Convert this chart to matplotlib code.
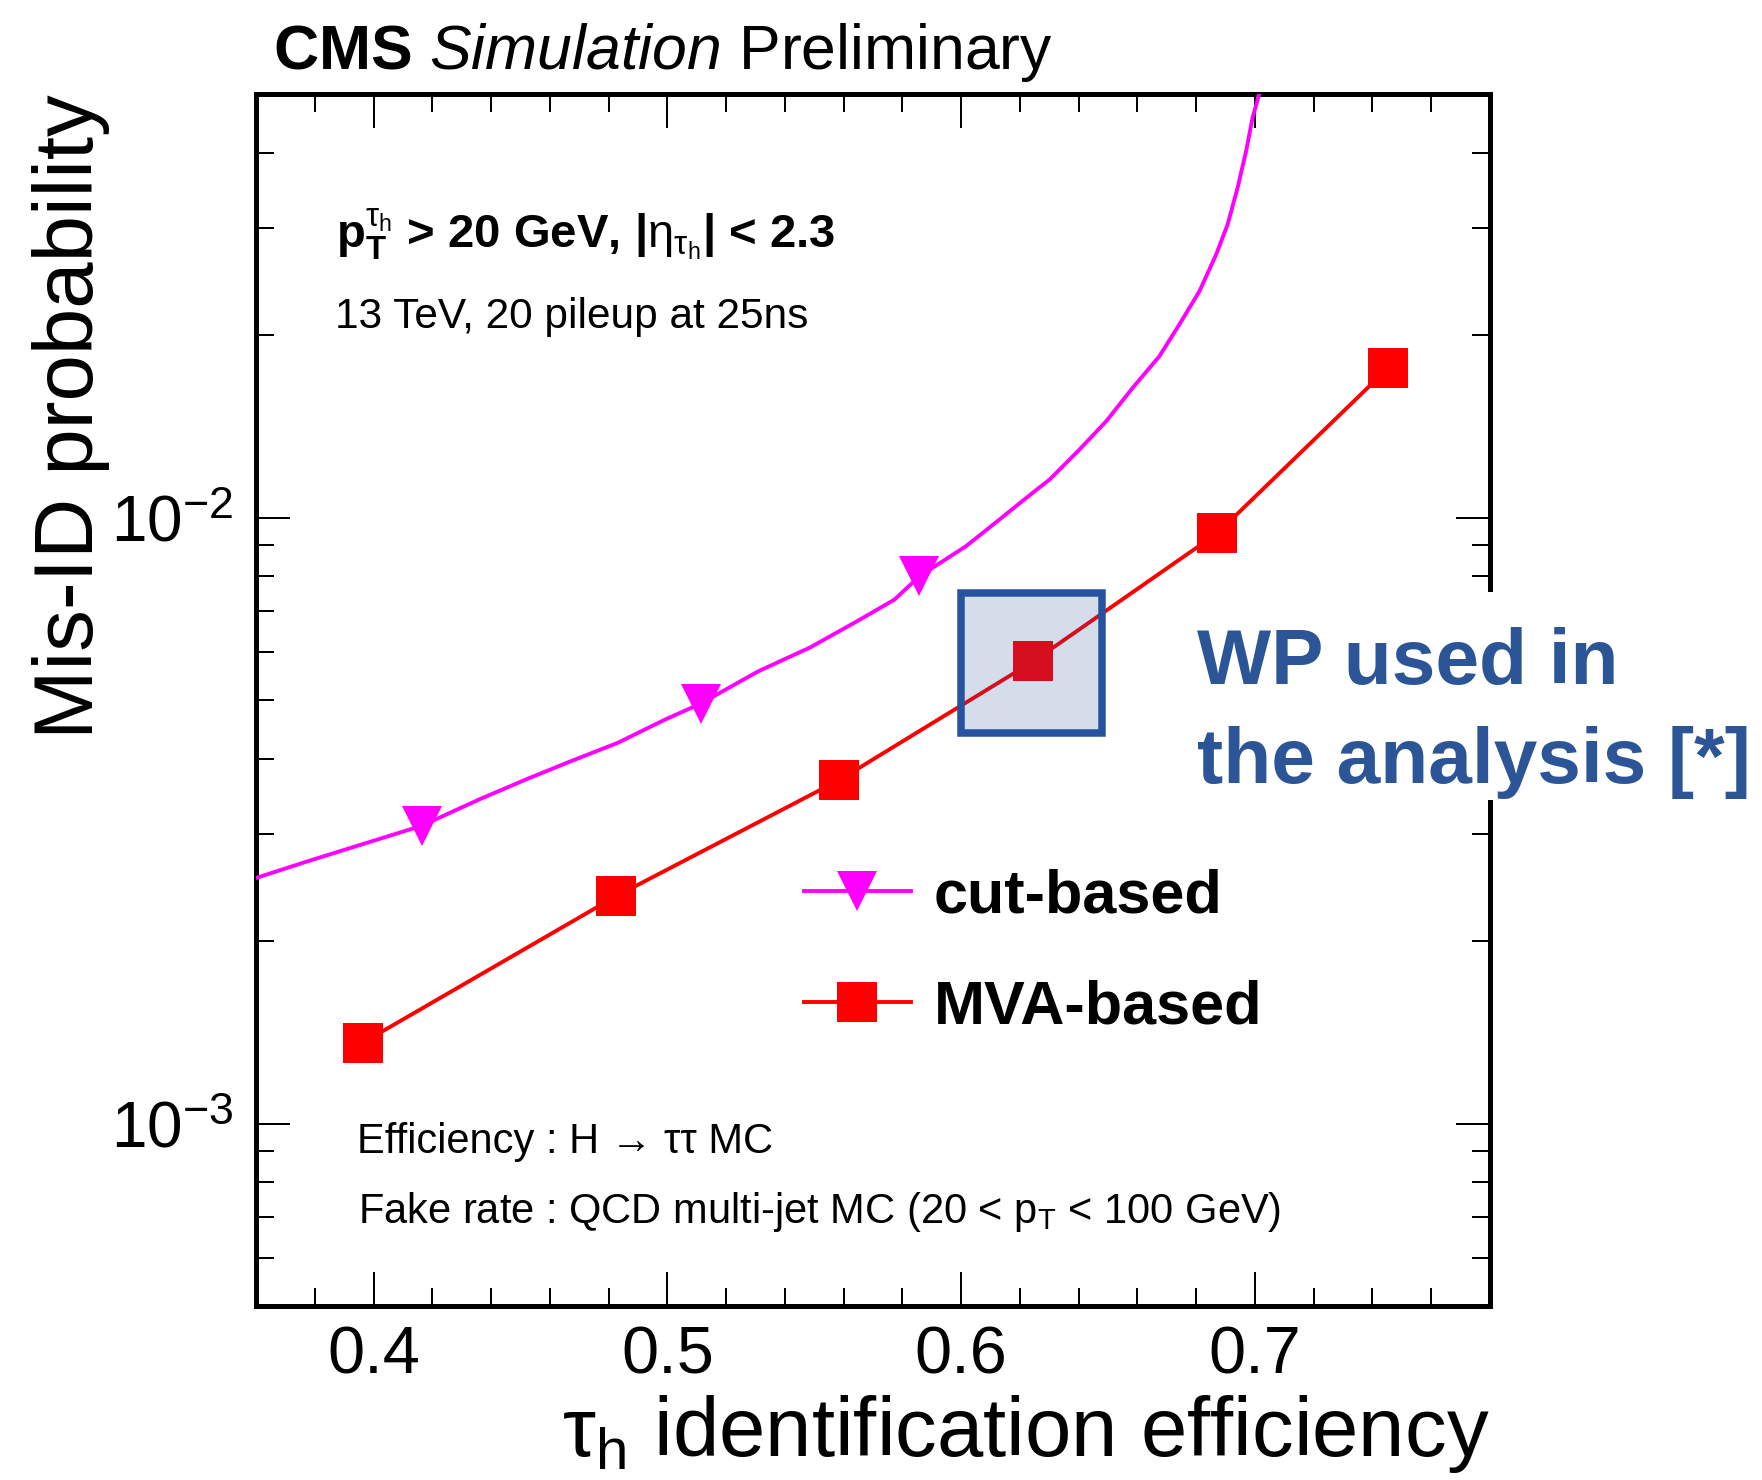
import numpy as np
import matplotlib

matplotlib.use("Agg")
import matplotlib.pyplot as plt
from matplotlib.legend_handler import HandlerTuple
from matplotlib.patches import Rectangle
from matplotlib.ticker import LogLocator, MultipleLocator, NullFormatter

plt.rcParams["font.family"] = ["Liberation Sans", "DejaVu Sans"]
plt.rcParams["mathtext.fontset"] = "custom"
plt.rcParams["mathtext.rm"] = "Liberation Sans"
plt.rcParams["mathtext.it"] = "Liberation Sans:italic"
plt.rcParams["mathtext.bf"] = "Liberation Sans:bold"

# cut-based isolation: full ROC curve
cut_eff = [0.3598, 0.3777, 0.4164, 0.4362, 0.4521, 0.4665, 0.4832, 0.4992,
           0.5113, 0.5311, 0.5485, 0.5645, 0.5773, 0.5858, 0.6017, 0.6131,
           0.6244, 0.6301, 0.6403, 0.6494, 0.6584, 0.6675, 0.6743, 0.6811,
           0.6868, 0.6907, 0.6941, 0.6970, 0.6992, 0.7017]
cut_fake = [0.00254, 0.00271, 0.00310, 0.00343, 0.00370, 0.00395, 0.00425,
            0.00464, 0.00493, 0.00558, 0.00610, 0.00674, 0.00732, 0.00800,
            0.00897, 0.00993, 0.01099, 0.01155, 0.01295, 0.01442, 0.01637,
            0.01846, 0.02083, 0.02362, 0.02716, 0.03044, 0.03500, 0.04023,
            0.04566, 0.05050]
# cut-based working points (loose / medium / tight)
cut_wp_eff = [0.4164, 0.5113, 0.5858]
cut_wp_fake = [0.00310, 0.00493, 0.00800]

# MVA-based working points
mva_eff = [0.3964, 0.4824, 0.5586, 0.6246, 0.6872, 0.7453]
mva_fake = [0.00136, 0.00237, 0.00369, 0.00579, 0.00942, 0.01764]

# working point used in the analysis
wp_eff_range = (0.600, 0.648)
wp_fake_range = (0.00441, 0.00750)

MAGENTA = "#ff00ff"
RED = "#ff0000"
WP_BLUE = "#2b5597"

fig = plt.figure(figsize=(17.62, 14.80), dpi=100)
ax = fig.add_axes([0.1453, 0.1176, 0.7003, 0.8189])

cut_line, = ax.plot(cut_eff, cut_fake, color=MAGENTA, lw=2.8, zorder=3)
cut_marks, = ax.plot(cut_wp_eff, cut_wp_fake, ls="none", marker="v", ms=29.5,
                     mew=0, color=MAGENTA, zorder=4)
mva_line, = ax.plot(mva_eff, mva_fake, color=RED, lw=2.8, marker="s", ms=29,
                    mew=0, zorder=4)

ax.add_patch(Rectangle((wp_eff_range[0], wp_fake_range[0]),
                       wp_eff_range[1] - wp_eff_range[0],
                       wp_fake_range[1] - wp_fake_range[0],
                       facecolor=(45 / 255, 80 / 255, 150 / 255, 0.2),
                       edgecolor="#2553a0", lw=5.4, joinstyle="miter", zorder=5))

ax.set_yscale("log")
ax.set_xlim(0.36, 0.78)
ax.set_ylim(5e-4, 5e-2)
ax.xaxis.set_major_locator(MultipleLocator(0.1))
ax.xaxis.set_minor_locator(MultipleLocator(0.02))
ax.yaxis.set_major_locator(LogLocator(base=10, numticks=20))
ax.yaxis.set_minor_locator(LogLocator(base=10, subs=np.arange(2, 10), numticks=20))
ax.yaxis.set_minor_formatter(NullFormatter())

ax.tick_params(which="both", direction="in", top=True, right=True, width=1.44)
ax.tick_params(which="major", length=24.5)
ax.tick_params(which="minor", length=13)
ax.tick_params(axis="x", labelsize=48, pad=14)
ax.tick_params(axis="y", labelsize=46, pad=16)
for sp in ax.spines.values():
    sp.set_linewidth(3.6)

ax.set_xlabel("τ$_{\\mathrm{h}}$ identification efficiency", fontsize=60,
              loc="right", va="baseline")
ax.xaxis.set_label_coords(1.0, -0.124)
ax.set_ylabel("Mis-ID probability", fontsize=60, loc="top", va="baseline")
ax.yaxis.set_label_coords(-0.132, 1.0)

ax.text(0.0138, 1.0206, r"$\mathbf{CMS}$ $\mathit{Simulation}$ Preliminary",
        transform=ax.transAxes, fontsize=45, va="baseline")
ax.text(0.0648, 0.8729,
        r"p$_{\mathbf{T}}^{\mathrm{τ}_{\mathrm{h}}}$ > 20 GeV, "
        r"|$\mathrm{η}_{\mathrm{τ}_{\mathrm{h}}}$| < 2.3",
        transform=ax.transAxes, fontsize=34, fontweight="bold", va="baseline")
ax.text(0.064, 0.8069, "13 TeV, 20 pileup at 25ns",
        transform=ax.transAxes, fontsize=30.5, va="baseline")
ax.text(0.0818, 0.1262, "Efficiency : H → ττ MC",
        transform=ax.transAxes, fontsize=30, va="baseline")
ax.text(0.0827, 0.0685,
        r"Fake rate : QCD multi-jet MC (20 < p$_{\mathrm{T}}$ < 100 GeV)",
        transform=ax.transAxes, fontsize=30, va="baseline")

# white panel behind the WP note, hiding the right frame there
ax.add_patch(Rectangle((0.7245, 0.4175), 0.5, 0.1716, transform=ax.transAxes,
                       facecolor="white", edgecolor="none", clip_on=False,
                       zorder=9))
# y is the baseline of the last line
ax.text(0.7626, 0.4315, "WP used in\nthe analysis [*]", transform=ax.transAxes,
        fontsize=56.5, fontweight="bold", color=WP_BLUE, ha="left", va="baseline",
        linespacing=1.46, clip_on=False, zorder=10)

ax.legend([(cut_line, cut_marks), mva_line], ["cut-based", "MVA-based"],
          handler_map={tuple: HandlerTuple()}, loc="upper left",
          bbox_to_anchor=(0.444, 0.361), frameon=False, numpoints=1,
          handlelength=1.75, handletextpad=0.38, labelspacing=0.88,
          borderpad=0, borderaxespad=0, prop={"weight": "bold", "size": 44})

fig.savefig("out.png", dpi=100)
